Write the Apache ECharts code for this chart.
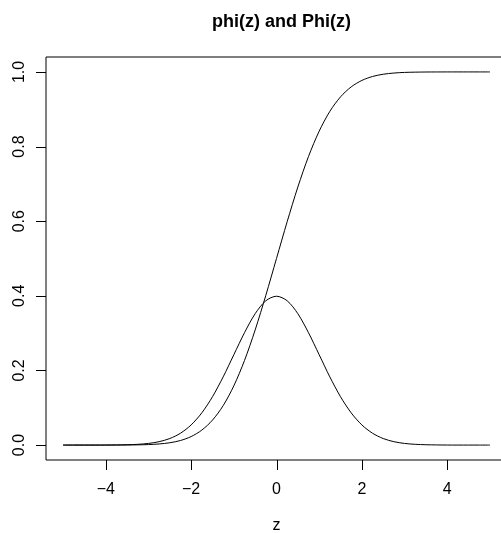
<!DOCTYPE html>
<html>
<head>
<meta charset="utf-8">
<script src="https://cdn.jsdelivr.net/npm/echarts@6/dist/echarts.min.js"></script>
<style>html,body{margin:0;padding:0;background:#fff;}#c{width:501px;height:533px;}</style>
</head>
<body>
<div id="c"></div>
<script>
// z grid (step 0.25 from -5 to 5)
var zValues = [-5,-4.75,-4.5,-4.25,-4,-3.75,-3.5,-3.25,-3,-2.75,-2.5,-2.25,-2,-1.75,-1.5,-1.25,-1,-0.75,-0.5,-0.25,0,
  0.25,0.5,0.75,1,1.25,1.5,1.75,2,2.25,2.5,2.75,3,3.25,3.5,3.75,4,4.25,4.5,4.75,5];
// phi(z) density values
var phiValues = [0.0000,0.0000,0.0000,0.0000,0.0001,0.0004,0.0009,0.0020,0.0044,0.0091,0.0175,0.0317,0.0540,0.0863,0.1295,0.1826,0.2420,0.3011,0.3521,0.3867,0.3989,
  0.3867,0.3521,0.3011,0.2420,0.1826,0.1295,0.0863,0.0540,0.0317,0.0175,0.0091,0.0044,0.0020,0.0009,0.0004,0.0001,0.0000,0.0000,0.0000,0.0000];
// Phi(z) cumulative values
var PhiValues = [0.0000,0.0000,0.0000,0.0000,0.0000,0.0001,0.0002,0.0006,0.0013,0.0030,0.0062,0.0122,0.0228,0.0401,0.0668,0.1056,0.1587,0.2266,0.3085,0.4013,0.5000,
  0.5987,0.6915,0.7734,0.8413,0.8944,0.9332,0.9599,0.9772,0.9878,0.9938,0.9970,0.9987,0.9994,0.9998,0.9999,1.0000,1.0000,1.0000,1.0000,1.0000];
var xTicks = [-4,-2,0,2,4];
var yTicks = [0,0.2,0.4,0.6,0.8,1.0];
// plot limits (R default 4% extension of data range)
var xLimits = [-5.4, 5.4];
var yLimits = [-0.04, 1.04];
var titleText = 'phi(z) and Phi(z)';
var xName = 'z';

var font = '"Liberation Sans", Arial, Helvetica, sans-serif';
var tickLen = 10;
function pair(ys){ return zValues.map(function(z,i){ return [z, ys[i]]; }); }

var chart = echarts.init(document.getElementById('c'), null, {renderer:'canvas'});
chart.setOption({
  animation: false,
  backgroundColor: '#ffffff',
  title: {
    text: titleText, left: 276.5, top: 8, textAlign: 'center',
    textStyle: {fontFamily: font, fontSize: 18, fontWeight: 'bold', color: '#000'}
  },
  grid: {left: 46, top: 57, width: 461, height: 403, outerBoundsMode: 'none', containLabel: false,
    show: true, borderColor: '#000', borderWidth: 1, backgroundColor: 'transparent'},
  xAxis: {
    type: 'value', min: xLimits[0], max: xLimits[1], position: 'bottom',
    name: xName, nameLocation: 'middle', nameGap: 58,
    nameTextStyle: {fontFamily: font, fontSize: 16, color: '#000'},
    axisLine: {show: false, onZero: false},
    splitLine: {show: false},
    axisTick: {show: false},
    axisLabel: {show: true, customValues: xTicks, margin: 22, fontFamily: font, fontSize: 16, color: '#000',
      formatter: function(v){ return (v < 0 ? '\u2212' + Math.abs(v) : String(v)); }}
  },
  yAxis: {
    type: 'value', min: yLimits[0], max: yLimits[1], position: 'left',
    axisLine: {show: false, onZero: false},
    splitLine: {show: false},
    axisTick: {show: false},
    axisLabel: {show: true, customValues: yTicks, rotate: 90, margin: 18, fontFamily: font, fontSize: 16, color: '#000',
      formatter: function(v){ return v.toFixed(1); }}
  },
  series: [
    {type: 'line', data: pair(phiValues), smooth: 0.3, showSymbol: false, symbol: 'none',
      lineStyle: {color: '#000', width: 1}, silent: true},
    {type: 'line', data: pair(PhiValues), smooth: 0.3, showSymbol: false, symbol: 'none',
      lineStyle: {color: '#000', width: 1}, silent: true},
    // x tick marks, placed through the axis scale
    {type: 'custom', clip: false, silent: true, z: 5,
      data: xTicks.map(function(v){ return [v, yLimits[0]]; }),
      renderItem: function(params, api){
        var p = api.coord([api.value(0), yLimits[0]]);
        var x = Math.round(p[0]) + 0.5;
        return {type: 'line', shape: {x1: x, y1: p[1], x2: x, y2: p[1] + tickLen},
          style: {stroke: '#000', lineWidth: 1}};
      }},
    // y tick marks, placed through the axis scale
    {type: 'custom', clip: false, silent: true, z: 5,
      data: yTicks.map(function(v){ return [xLimits[0], v]; }),
      renderItem: function(params, api){
        var p = api.coord([xLimits[0], api.value(1)]);
        var y = Math.round(p[1]) + 0.5;
        return {type: 'line', shape: {x1: p[0] - tickLen, y1: y, x2: p[0], y2: y},
          style: {stroke: '#000', lineWidth: 1}};
      }}
  ]
});
</script>
</body>
</html>
